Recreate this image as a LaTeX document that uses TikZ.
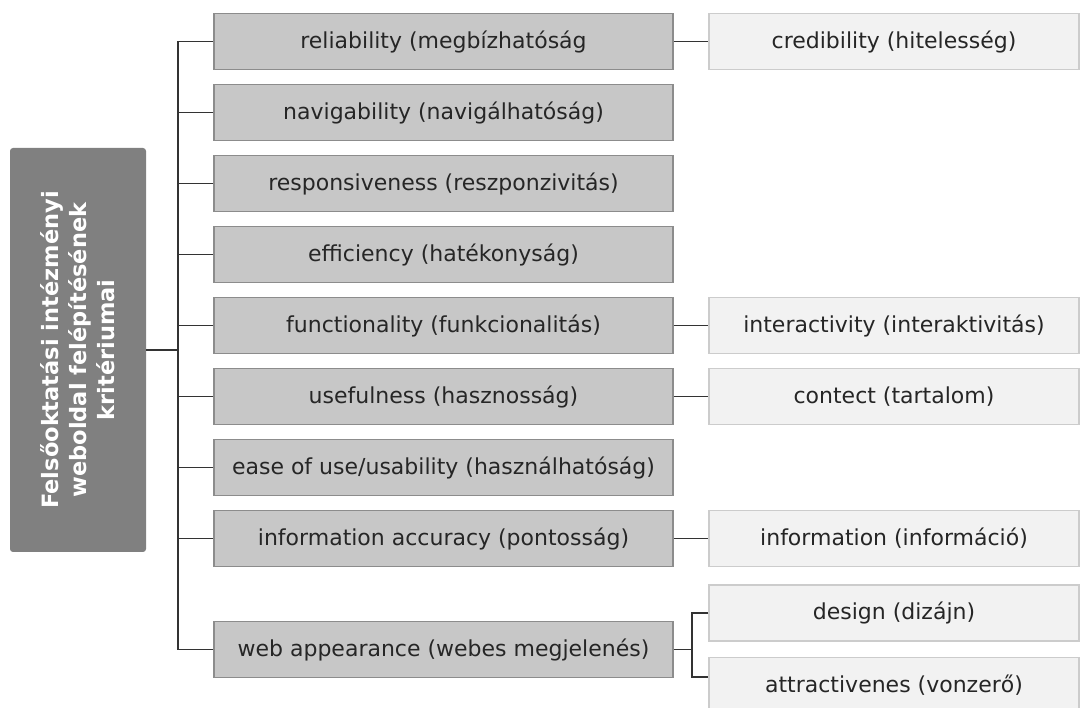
\documentclass[tikz,border=0pt]{standalone}
\usepackage{fontspec}
\setmainfont{DejaVu Sans}
\tikzset{
  root/.style={draw=none,fill=black!50,rounded corners=3pt,rotate=90,minimum width=404pt,minimum height=136pt,
    inner sep=0pt,align=center,text=white,font=\bfseries\fontsize{22.5}{28}\selectfont},
  mid/.style={draw=black!45,fill=black!22,line width=1.3pt,minimum width=459pt,minimum height=56pt,
    inner sep=0pt,text=black!85,font=\fontsize{22}{26}\selectfont},
  leaf/.style={draw=black!20,fill=black!5,line width=1.3pt,minimum width=370pt,minimum height=56pt,
    inner sep=0pt,text=black!85,font=\fontsize{22}{26}\selectfont},
  link/.style={line width=1.5pt,black!80}
}
\begin{document}
\begin{tikzpicture}[x=1pt,y=-1pt]
  \useasboundingbox (0,0) rectangle (1080,708);
  \node[root] (root) at (78,350) {Felsőoktatási intézményi\\weboldal felépítésének\\kritériumai};
  % criteria column
  \foreach \n/\y/\t in {1/41.5/{reliability (megbízhatóság},2/112.5/{navigability (navigálhatóság)},
      3/183.5/{responsiveness (reszponzivitás)},4/254.5/{efficiency (hatékonyság)},
      5/325.5/{functionality (funkcionalitás)},6/396.5/{usefulness (hasznosság)},
      7/467.5/{ease of use/usability (használhatóság)},8/538.5/{information accuracy (pontosság)},
      9/649.5/{web appearance (webes megjelenés)}}
    \node[mid] (m\n) at (443.5,\y) {\t};
  % sub-criteria
  \node[leaf] (credib) at (894,41.5) {credibility (hitelesség)};
  \node[leaf] (interact) at (894,325.5) {interactivity (interaktivitás)};
  \node[leaf] (content) at (894,396.5) {contect (tartalom)};
  \node[leaf] (info) at (894,538.5) {information (információ)};
  \node[leaf] (design) at (894,613) {design (dizájn)};
  \node[leaf] (attract) at (894,685.5) {attractivenes (vonzerő)};
  % tree lines
  \coordinate (trunk) at (178,0);
  \draw[link,line width=2.5pt] (root.south) -- (root.south -| trunk);
  \draw[link] (m1.west -| trunk) -- (m9.west -| trunk);
  \foreach \n in {1,...,9}
    \draw[link] (m\n.west) -- (m\n.west -| trunk);
  \draw[link] (m1.east) -- (credib.west);
  \draw[link] (m5.east) -- (interact.west);
  \draw[link] (m6.east) -- (content.west);
  \draw[link] (m8.east) -- (info.west);
  \draw[link] (m9.east) -- ++(18.5,0) coordinate (fork);
  \draw[link] (design.west) -| (fork) |- ([yshift=8.5pt]attract.west);
\end{tikzpicture}
\end{document}
